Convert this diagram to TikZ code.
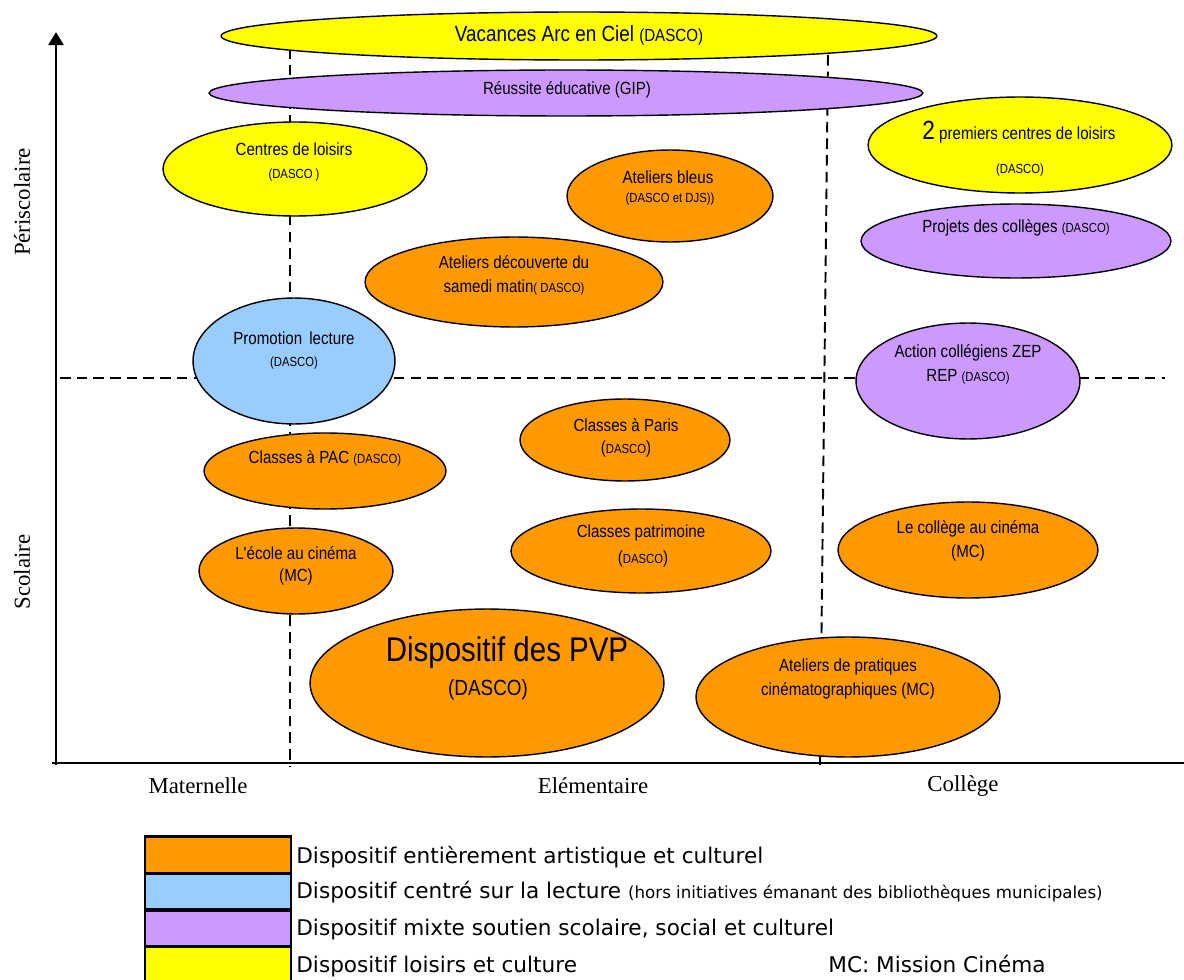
\documentclass[tikz,border=0pt]{standalone}
\usepackage{fontspec}
\setmainfont{Liberation Serif}
\newfontfamily\narrow[FakeStretch=0.86]{Liberation Sans}
\newfontfamily\legfont{DejaVu Sans}
\usetikzlibrary{calc,shapes.geometric,arrows.meta}

\definecolor{orangeD}{HTML}{FF9900}
\definecolor{bleuD}{HTML}{99CCFF}
\definecolor{violetD}{HTML}{CC99FF}
\definecolor{jauneD}{HTML}{FFFF00}

\newcommand{\petit}[1]{{\fontsize{7.5}{9}\selectfont #1}}

\begin{document}
\begin{tikzpicture}[x={(0.02cm,0cm)}, y={(0cm,-0.02cm)}]
\useasboundingbox (0,0) rectangle (1184,980);
%styles
\tikzset{zone/.style 2 args={ellipse, draw=black, line width=0.8pt, inner sep=0pt, minimum width=#1*0.04cm, minimum height=#2*0.04cm}}
\tikzstyle{txt}=[inner sep=0pt, align=center, font=\narrow\fontsize{10}{12}\selectfont]
\tikzstyle{axelabel}=[inner sep=0pt, font=\fontsize{13}{15}\selectfont]
\tikzstyle{sep}=[dashed, line width=1.1pt, dash pattern=on 6pt off 3.5pt]
\tikzstyle{axe}=[line width=1.6pt, -{Triangle[length=7.4pt,width=8.5pt]}]
\tikzstyle{legbox}=[rectangle, draw=black, line width=1.7pt, minimum width=146*0.02cm, minimum height=36.5*0.02cm, inner sep=0pt]
\tikzstyle{legtxt}=[inner sep=0pt, anchor=base west, font=\legfont\fontsize{12.3}{14}\selectfont]

%separations
\coordinate (h0) at (60,378);
\coordinate (h1) at (1165,378);
\coordinate (v0) at (290,48);
\coordinate (v1) at (290,767);
\coordinate (w0) at (828,55);
\coordinate (w1) at (820,765);
\draw[sep] (h0) -- (h1);
\draw[sep] (v0) -- (v1);
\draw[sep] (w0) -- (w1);

%axes
\coordinate (o) at (56,763);
\coordinate (ytop) at (56,32);
\coordinate (xend) at (1184,763);
\draw[line width=1.6pt] (52,763) -- (xend);
\draw[axe] (56,765) -- (ytop);

\node[axelabel, rotate=90] (peri) at (22,202) {Périscolaire};
\node[axelabel, rotate=90] (scol) at (22,572) {Scolaire};
\node[axelabel] (mat) at (198,786) {Maternelle};
\node[axelabel] (elem) at (593,786) {Elémentaire};
\node[axelabel] (coll) at (963,786) {Collège};

%zones
\node[zone={358}{24}, fill=jauneD] (vacances) at (579,36) {};
\node[zone={357}{23}, fill=violetD] (reussite) at (566,93) {};
\node[zone={132}{47}, fill=jauneD] (centres) at (295,169) {};
\node[zone={103}{46}, fill=orangeD] (bleus) at (670,196) {};
\node[zone={149}{45}, fill=orangeD] (decouverte) at (514,282) {};
\node[zone={152}{48}, fill=jauneD] (premiers) at (1020,145) {};
\node[zone={155}{37}, fill=violetD] (projets) at (1016,241) {};
\node[zone={101}{63}, fill=bleuD] (promo) at (294,361) {};
\node[zone={112}{58}, fill=violetD] (action) at (968,381) {};
\node[zone={121}{38}, fill=orangeD] (pac) at (325,471) {};
\node[zone={105}{41}, fill=orangeD] (paris) at (625,440) {};
\node[zone={130}{42}, fill=orangeD] (patrimoine) at (641,551) {};
\node[zone={97}{43}, fill=orangeD] (ecole) at (296,571) {};
\node[zone={130}{48}, fill=orangeD] (college) at (968,550) {};
\node[zone={177}{74}, fill=orangeD] (pvp) at (487,683) {};
\node[zone={152}{60}, fill=orangeD] (pratiques) at (848,697) {};

%texts
\node[txt, font=\narrow\fontsize{12.5}{14}\selectfont] (vacancesT) at ($(vacances)+(0,-1)$) {Vacances Arc en Ciel {\fontsize{10}{12}\selectfont(DASCO)}};
\node[txt] (reussiteT) at ($(reussite)+(1,-3)$) {Réussite éducative (GIP)};
\node[txt] (centresT) at ($(centres)+(-1,-20)$) {Centres de loisirs};
\node[txt] (centresD) at ($(centres)+(-1,6)$) {\petit{(DASCO )}};
\node[txt] (bleusT) at ($(bleus)+(-2,-19)$) {Ateliers bleus};
\node[txt] (bleusD) at ($(bleus)+(0,3)$) {\petit{(DASCO et DJS))}};
\node[txt] (decouverteT) at ($(decouverte)+(0,-20)$) {Ateliers découverte du};
\node[txt] (decouverteD) at ($(decouverte)+(0,5)$) {samedi matin\petit{( DASCO)}};
\node[txt] (premiersT) at ($(premiers)+(-1,-13)$) {{\fontsize{15}{16}\selectfont 2} premiers centres de loisirs};
\node[txt] (premiersD) at ($(premiers)+(0,25)$) {\petit{(DASCO)}};
\node[txt] (projetsT) at ($(projets)+(0,-13)$) {Projets des collèges \petit{(DASCO)}};
\node[txt] (promoT) at ($(promo)+(0,-23)$) {Promotion\, lecture};
\node[txt] (promoD) at ($(promo)+(0,2)$) {\petit{(DASCO)}};
\node[txt] (actionT) at ($(action)+(0,-28)$) {Action collégiens ZEP};
\node[txt] (actionD) at ($(action)+(0,-4)$) {REP \petit{(DASCO)}};
\node[txt] (pacT) at ($(pac)+(0,-13)$) {Classes à PAC \petit{(DASCO)}};
\node[txt] (parisT) at ($(paris)+(1,-15)$) {Classes à Paris};
\node[txt] (parisD) at ($(paris)+(1,9)$) {(\petit{DASCO})};
\node[txt] (patrimoineT) at ($(patrimoine)+(0,-18)$) {Classes patrimoine};
\node[txt] (patrimoineD) at ($(patrimoine)+(2,8)$) {(\petit{DASCO})};
\node[txt] (ecoleT) at ($(ecole)+(0,-18)$) {L'école au cinéma};
\node[txt] (ecoleD) at ($(ecole)+(0,6)$) {(MC)};
\node[txt] (collegeT) at ($(college)+(0,-21)$) {Le collège au cinéma};
\node[txt] (collegeD) at ($(college)+(0,3)$) {(MC)};
\node[txt, font=\narrow\fontsize{19.5}{22}\selectfont] (pvpT) at ($(pvp)+(20,-30)$) {Dispositif des PVP};
\node[txt, font=\narrow\fontsize{12.5}{14}\selectfont] (pvpD) at ($(pvp)+(1,7)$) {(DASCO)};
\node[txt] (pratiquesT) at ($(pratiques)+(0,-30)$) {Ateliers de pratiques};
\node[txt] (pratiquesD) at ($(pratiques)+(0,-6)$) {cinématographiques (MC)};

%legend
\node[legbox, fill=orangeD] (leg1) at (218,855) {};
\node[legbox, fill=bleuD] (leg2) at (218,891.5) {};
\node[legbox, fill=violetD] (leg3) at (218,928.5) {};
\node[legbox, fill=jauneD] (leg4) at (218,965) {};
\node[legtxt] (leg1T) at (296,863) {Dispositif entièrement artistique et culturel};
\node[legtxt] (leg2T) at (296,898) {Dispositif centré sur la lecture {\fontsize{9.5}{11}\selectfont(hors initiatives émanant des bibliothèques municipales)}};
\node[legtxt] (leg3T) at (296,935) {Dispositif mixte soutien scolaire, social et culturel};
\node[legtxt] (leg4T) at (296,972) {Dispositif loisirs et culture};
\node[legtxt] (mc) at (828,972) {MC: Mission Cinéma};
\end{tikzpicture}
\end{document}
